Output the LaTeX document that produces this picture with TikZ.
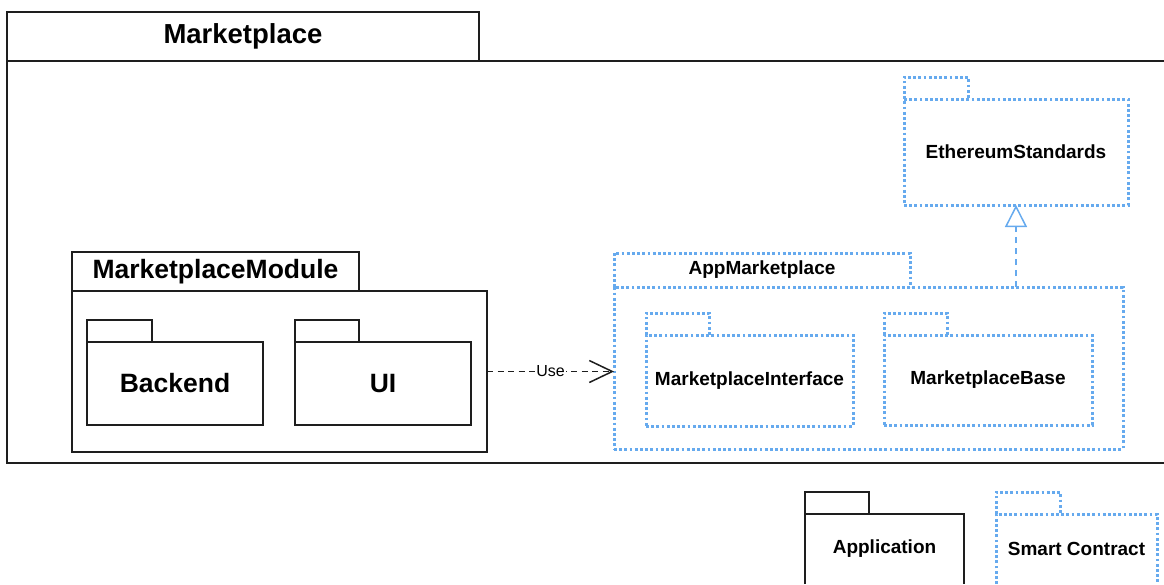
\documentclass[tikz,border=0pt]{standalone}
\usepackage{fontspec}
\setmainfont{Liberation Sans}
\usetikzlibrary{arrows.meta}
\definecolor{pkgblue}{RGB}{102,170,238}
\definecolor{ink}{RGB}{30,30,30}
\newcommand\pkgnode[7]{\node[#6,minimum width={#4pt-#2pt},minimum height={#5pt-#3pt}] (#1) at (#2,#3) {#7};}
\begin{document}
\begin{tikzpicture}[x=1pt,y=-1pt,
  box/.style={rectangle,inner sep=0pt,outer sep=0pt,anchor=north west,font=\bfseries},
  solidbox/.style={box,draw=ink,line width=1.5pt},
  plainbox/.style={box},
  dotbox/.style={box,draw=pkgblue,line width=3pt,dash pattern=on 2.8pt off 2.4pt},
  solidpath/.style={draw=ink,line width=1.5pt},
  dotpath/.style={draw=pkgblue,line width=3pt,dash pattern=on 2.8pt off 2.4pt},
  big/.style={font=\bfseries\fontsize{27.5}{30}\selectfont},
  mid/.style={font=\bfseries\fontsize{26.5}{29}\selectfont},
  small/.style={font=\bfseries\fontsize{19}{22}\selectfont},
  usearrow/.style={draw=ink,line width=1.4pt,dash pattern=on 6pt off 4.5pt,-{Straight Barb[length=23pt,width=22pt,line width=1.5pt]}},
  inharrow/.style={draw=pkgblue,line width=1.5pt,dash pattern=on 6pt off 5pt,-{Triangle[open,length=22pt,width=22pt,line width=1.5pt]}}
]
\useasboundingbox (0,0) rectangle (1164,584);

% Outer Marketplace package
\pkgnode{mpTab}{7}{12}{479}{61}{solidbox,big}{Marketplace}
\pkgnode{mpBody}{7}{61}{1168}{463}{plainbox}{}
\draw[solidpath] (mpBody.north east) -- (mpBody.north west) -- (mpBody.south west) -- (mpBody.south east);

% MarketplaceModule
\pkgnode{modTab}{72}{252}{359}{291}{solidbox,mid}{MarketplaceModule}
\pkgnode{modBody}{72}{291}{487}{452}{solidbox}{}
\pkgnode{backTab}{87}{320}{152}{342}{solidbox}{}
\pkgnode{backBody}{87}{342}{263}{425}{solidbox,mid}{Backend}
\pkgnode{uiTab}{295}{320}{359}{342}{solidbox}{}
\pkgnode{uiBody}{295}{342}{471}{425}{solidbox,mid}{UI}

% AppMarketplace
\pkgnode{appTab}{614}{253}{910}{287}{plainbox,small}{AppMarketplace}
\draw[dotpath] (appTab.south west) |- (appTab.north east) -- (appTab.south east);
\pkgnode{appBody}{614}{287}{1123}{449}{dotbox}{}
\pkgnode{ifTab}{646}{313}{709}{335}{plainbox}{}
\draw[dotpath] (ifTab.south west) |- (ifTab.north east) -- (ifTab.south east);
\pkgnode{ifBody}{646}{335}{853}{426}{dotbox,small}{MarketplaceInterface}
\pkgnode{baseTab}{884}{313}{947}{335}{plainbox}{}
\draw[dotpath] (baseTab.south west) |- (baseTab.north east) -- (baseTab.south east);
\pkgnode{baseBody}{884}{335}{1092}{425}{dotbox,small}{MarketplaceBase}

% EthereumStandards
\pkgnode{ethTab}{904}{77}{968}{99}{plainbox}{}
\draw[dotpath] (ethTab.south west) |- (ethTab.north east) -- (ethTab.south east);
\pkgnode{ethBody}{904}{99}{1128}{205}{dotbox,small}{EthereumStandards}

% Legend
\pkgnode{applTab}{805}{492}{869}{514}{solidbox}{}
\pkgnode{applBody}{805}{514}{964}{584}{plainbox,small}{Application}
\draw[solidpath] (applBody.south west) |- (applBody.north east) -- (applBody.south east);
\pkgnode{scTab}{996}{492}{1060}{514}{plainbox}{}
\draw[dotpath] (scTab.south west) |- (scTab.north east) -- (scTab.south east);
\pkgnode{scBody}{996}{514}{1157}{584}{plainbox,small}{Smart Contract}
\draw[dotpath] (scBody.south west) |- (scBody.north east) -- (scBody.south east);

% Connectors
\draw[usearrow] (modBody.east) -- node[fill=white,inner sep=1pt,font=\fontsize{16}{18}\selectfont]{Use} (modBody.east -| appBody.west);
\draw[inharrow] (appBody.north -| ethBody.south) -- (ethBody.south);
\end{tikzpicture}
\end{document}
